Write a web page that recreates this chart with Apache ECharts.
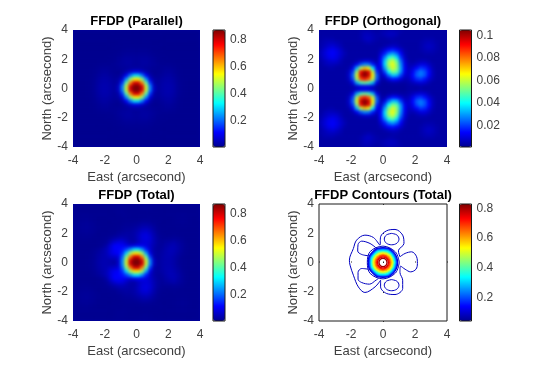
<!DOCTYPE html>
<html>
<head>
<meta charset="utf-8">
<script src="https://cdn.jsdelivr.net/npm/echarts@6/dist/echarts.min.js"></script>
<style>
  html, body { margin: 0; padding: 0; background: #fff; }
  #chart { position: absolute; left: 0; top: 0; width: 560px; height: 367px; }
  .panel { position: absolute; overflow: hidden; background: #0000a0; }
  .panel div { width: 100%; height: 100%; filter: blur(1px); }
</style>
</head>
<body>
<div class="panel" style="left:73px;top:30px;width:127px;height:117px"><div id="p1"></div></div>
<div class="panel" style="left:319px;top:30px;width:128px;height:117px"><div id="p2"></div></div>
<div class="panel" style="left:73px;top:204px;width:127px;height:117px"><div id="p3"></div></div>
<div id="chart"></div>
<script>
// grid values are in thousandths. cells are 0.25 arcsecond wide
const cellCenters = [-3.875, -3.625, -3.375, -3.125, -2.875, -2.625, -2.375, -2.125, -1.875, -1.625, -1.375, -1.125, -0.875, -0.625, -0.375, -0.125,
  0.125, 0.375, 0.625, 0.875, 1.125, 1.375, 1.625, 1.875, 2.125, 2.375, 2.625, 2.875, 3.125, 3.375, 3.625, 3.875];

// upper half only, the pictures are mirrored about North = 0. right half of the row for parallel
const parallelRows = [
  [2, 2, 2, 2, 2, 2, 2, 2, 2, 2, 2, 2, 2, 2, 2, 2],
  [2, 2, 2, 2, 2, 2, 2, 2, 2, 2, 2, 2, 2, 2, 2, 2],
  [2, 2, 2, 2, 2, 2, 2, 2, 2, 2, 2, 2, 2, 2, 2, 2],
  [3, 3, 3, 3, 2, 2, 2, 2, 2, 2, 2, 2, 2, 2, 2, 2],
  [4, 4, 3, 3, 3, 2, 2, 2, 2, 2, 2, 2, 2, 2, 2, 2],
  [6, 7, 6, 5, 3, 3, 2, 2, 2, 2, 2, 2, 2, 2, 2, 2],
  [10, 11, 10, 8, 5, 3, 3, 2, 2, 2, 2, 2, 2, 2, 2, 2],
  [14, 16, 16, 12, 8, 4, 3, 3, 2, 2, 2, 2, 2, 2, 2, 2],
  [16, 20, 20, 16, 11, 6, 4, 3, 3, 3, 2, 2, 2, 2, 2, 2],
  [14, 18, 18, 16, 12, 8, 6, 6, 5, 4, 3, 2, 2, 2, 2, 2],
  [20, 18, 14, 12, 9, 7, 8, 11, 11, 8, 4, 3, 2, 2, 2, 2],
  [80, 55, 30, 12, 6, 7, 10, 15, 15, 10, 5, 3, 2, 2, 2, 2],
  [300, 210, 100, 30, 8, 9, 14, 20, 20, 14, 7, 3, 2, 2, 2, 2],
  [550, 440, 230, 70, 20, 14, 20, 25, 25, 18, 9, 4, 3, 2, 2, 2],
  [790, 640, 400, 150, 30, 16, 24, 30, 30, 22, 11, 5, 3, 2, 2, 2],
  [870, 790, 500, 220, 50, 18, 26, 32, 32, 24, 12, 5, 3, 2, 2, 2]
];

const orthogonalRows = [
  [3, 3, 3, 3, 3, 3, 3, 3, 3, 3, 4, 5, 5, 4, 3, 4, 5, 6, 6, 5, 4, 3, 3, 3, 3, 3, 3, 3, 3, 3, 3, 3],
  [3, 3, 3, 3, 3, 3, 3, 3, 3, 3, 4, 6, 6, 5, 4, 4, 5, 6, 6, 5, 3, 3, 3, 3, 3, 3, 3, 3, 3, 3, 3, 3],
  [3, 4, 4, 4, 3, 3, 3, 3, 3, 3, 4, 6, 7, 5, 4, 3, 3, 4, 4, 3, 3, 3, 3, 3, 3, 3, 4, 4, 4, 3, 3, 3],
  [4, 5, 6, 6, 5, 4, 3, 3, 3, 3, 3, 4, 5, 4, 3, 3, 3, 3, 4, 4, 3, 3, 3, 3, 3, 4, 5, 6, 5, 4, 3, 3],
  [4, 6, 8, 9, 7, 5, 3, 3, 3, 3, 3, 3, 3, 3, 3, 3, 4, 6, 7, 6, 4, 3, 3, 3, 3, 4, 6, 7, 6, 4, 3, 3],
  [5, 8, 11, 12, 10, 7, 4, 3, 3, 3, 3, 3, 3, 3, 3, 5, 9, 14, 16, 13, 8, 4, 3, 3, 3, 4, 5, 6, 5, 4, 3, 3],
  [6, 9, 12, 13, 11, 8, 5, 3, 3, 3, 3, 3, 3, 3, 3, 8, 16, 26, 30, 24, 13, 5, 3, 3, 3, 3, 4, 4, 4, 3, 3, 3],
  [5, 8, 11, 12, 10, 7, 4, 3, 3, 3, 3, 3, 3, 3, 3, 12, 26, 42, 47, 36, 18, 7, 3, 3, 3, 3, 3, 3, 3, 3, 3, 3],
  [4, 6, 8, 9, 8, 5, 3, 3, 3, 4, 6, 8, 8, 6, 4, 14, 34, 54, 60, 48, 24, 9, 4, 3, 4, 5, 5, 4, 3, 3, 3, 3],
  [3, 5, 6, 6, 5, 4, 3, 3, 5, 12, 22, 28, 26, 16, 7, 13, 36, 58, 64, 54, 28, 11, 5, 5, 7, 10, 10, 7, 4, 3, 3, 3],
  [3, 3, 4, 4, 3, 3, 3, 4, 11, 32, 58, 72, 64, 38, 12, 9, 30, 52, 62, 54, 30, 12, 6, 9, 14, 19, 17, 11, 5, 3, 3, 3],
  [3, 3, 3, 3, 3, 3, 3, 6, 19, 54, 92, 103, 94, 60, 18, 6, 20, 40, 52, 48, 28, 11, 7, 12, 21, 26, 22, 14, 6, 3, 3, 3],
  [3, 3, 3, 3, 3, 3, 3, 7, 24, 62, 97, 105, 97, 66, 24, 5, 10, 24, 34, 32, 19, 8, 7, 14, 23, 26, 22, 13, 6, 3, 3, 3],
  [3, 3, 3, 3, 3, 3, 3, 6, 20, 56, 84, 90, 82, 60, 22, 4, 4, 10, 15, 14, 9, 5, 6, 11, 17, 19, 15, 9, 5, 3, 3, 3],
  [3, 3, 3, 3, 3, 3, 3, 4, 10, 30, 46, 50, 46, 32, 10, 3, 2, 3, 4, 4, 3, 3, 4, 6, 8, 9, 8, 5, 3, 3, 3, 3],
  [3, 3, 3, 3, 3, 3, 3, 3, 4, 7, 10, 11, 10, 7, 3, 2, 2, 2, 2, 2, 2, 2, 3, 3, 3, 4, 3, 3, 3, 3, 3, 3]
];

const totalRows = [
  [5, 5, 5, 5, 5, 5, 5, 5, 5, 5, 6, 7, 7, 6, 5, 6, 7, 8, 8, 7, 6, 5, 5, 5, 5, 5, 5, 5, 5, 5, 5, 5],
  [5, 5, 5, 5, 5, 5, 5, 5, 5, 5, 6, 8, 8, 7, 6, 6, 7, 8, 8, 7, 5, 5, 5, 5, 5, 5, 5, 5, 5, 5, 5, 5],
  [5, 6, 6, 6, 5, 5, 5, 5, 5, 5, 6, 8, 9, 7, 6, 5, 5, 6, 6, 5, 5, 5, 5, 5, 5, 5, 6, 6, 6, 5, 5, 5],
  [6, 7, 8, 8, 7, 6, 5, 5, 5, 5, 5, 6, 8, 7, 6, 6, 6, 6, 7, 7, 5, 5, 5, 5, 5, 6, 7, 8, 7, 6, 5, 5],
  [6, 8, 10, 11, 9, 7, 5, 5, 5, 5, 5, 6, 6, 7, 7, 7, 8, 10, 10, 9, 7, 5, 5, 5, 5, 6, 8, 9, 8, 6, 5, 5],
  [7, 10, 13, 14, 12, 9, 6, 5, 5, 5, 6, 6, 8, 9, 10, 11, 15, 21, 22, 18, 11, 7, 5, 5, 5, 6, 7, 8, 7, 6, 5, 5],
  [8, 11, 14, 15, 13, 10, 7, 5, 5, 5, 6, 6, 11, 13, 14, 18, 26, 37, 40, 32, 18, 8, 6, 5, 5, 5, 6, 6, 6, 5, 5, 5],
  [7, 10, 13, 14, 12, 9, 6, 5, 5, 6, 6, 11, 15, 19, 19, 26, 40, 58, 63, 48, 26, 11, 6, 6, 5, 5, 5, 5, 5, 5, 5, 5],
  [6, 8, 10, 11, 10, 7, 5, 6, 6, 8, 12, 19, 24, 26, 24, 30, 50, 74, 80, 64, 35, 15, 8, 6, 7, 8, 7, 6, 5, 5, 5, 5],
  [5, 7, 8, 8, 7, 6, 6, 8, 10, 18, 30, 40, 42, 34, 25, 27, 50, 76, 82, 70, 40, 19, 11, 11, 12, 14, 13, 9, 6, 5, 5, 5],
  [5, 5, 6, 6, 5, 5, 7, 8, 14, 40, 65, 81, 76, 52, 30, 29, 50, 70, 76, 66, 39, 19, 14, 20, 25, 30, 21, 14, 7, 5, 5, 5],
  [5, 5, 5, 5, 5, 5, 7, 12, 29, 69, 106, 109, 106, 90, 73, 86, 100, 95, 82, 60, 34, 18, 17, 27, 36, 41, 27, 17, 8, 5, 5, 5],
  [5, 5, 5, 5, 6, 10, 17, 27, 44, 76, 106, 113, 127, 166, 234, 305, 310, 234, 134, 62, 27, 17, 21, 34, 43, 40, 29, 16, 8, 5, 5, 5],
  [5, 5, 5, 6, 7, 12, 21, 31, 45, 76, 98, 110, 152, 290, 462, 554, 554, 450, 245, 84, 29, 19, 26, 36, 42, 37, 24, 13, 8, 5, 5, 5],
  [5, 5, 5, 6, 8, 14, 25, 34, 40, 54, 62, 80, 196, 432, 650, 793, 792, 643, 404, 154, 33, 19, 28, 36, 38, 31, 19, 10, 6, 5, 5, 5],
  [5, 5, 5, 6, 8, 15, 27, 35, 36, 33, 28, 61, 230, 507, 793, 872, 872, 792, 502, 222, 52, 20, 29, 35, 35, 28, 15, 8, 6, 5, 5, 5]
];

// contour lines of the total, [East, North] in arcsecond
const lowContours = [
  [[1.06, 0.39], [1.38, 0.62], [1.79, 0.73], [2.1, 0.39], [2.15, -0.07], [2.06, -0.46], [1.73, -0.64], [1.38, -0.46], [1.1, -0.25], [1.06, -0.68], [1.23, -1.21], [1.23, -1.78], [0.75, -2.19], [0.23, -2.12], [-0.15, -1.67], [-0.15, -1.21], [-0.5, -1.67], [-1.13, -2.05], [-1.54, -1.67], [-1.85, -0.87], [-2.06, -0.18], [-2.1, 0.16], [-1.85, 0.96], [-1.65, 1.53], [-1.13, 1.87], [-0.6, 1.71], [-0.19, 1.19], [-0.15, 1.76], [0.23, 2.17], [0.75, 2.26], [1.23, 1.87], [1.31, 1.3], [0.96, 0.8], [1.06, 0.39]],
  [[-0.44, 1.0], [-0.81, 1.3], [-1.33, 1.46], [-1.56, 1.23], [-1.58, 0.78], [-1.33, 0.55], [-0.9, 0.46]],
  [[-0.9, -0.46], [-1.33, -0.41], [-1.56, -0.68], [-1.56, -1.14], [-1.33, -1.37], [-0.85, -1.48], [-0.44, -1.21], [-0.29, -1.1]],
  [[0.54, 1.99], [0.87, 1.88], [1.0, 1.6], [0.87, 1.32], [0.54, 1.21], [0.21, 1.32], [0.08, 1.6], [0.21, 1.88], [0.54, 1.99]],
  [[0.54, -1.17], [0.87, -1.28], [1.0, -1.55], [0.87, -1.82], [0.54, -1.93], [0.21, -1.82], [0.08, -1.55], [0.21, -1.28], [0.54, -1.17]],
  [[1.02, 0], [0.78, 0.72], [0, 1.12], [-0.8, 0.75], [-0.98, 0], [-0.8, -0.75], [0, -1.12], [0.78, -0.72], [1.02, 0]]
];
const ringLevels = [0.1, 0.15, 0.2, 0.25, 0.3, 0.35, 0.4, 0.45, 0.5, 0.55, 0.6, 0.65, 0.7, 0.75, 0.8];
const ringContours = [
  [[0.92, 0], [0.65, 0.72], [0, 1.01], [-0.65, 0.72], [-0.92, 0], [-0.65, -0.72], [0, -1.01], [0.65, -0.72], [0.92, 0]],
  [[0.87, 0], [0.62, 0.68], [0, 0.96], [-0.62, 0.68], [-0.87, 0], [-0.62, -0.68], [0, -0.96], [0.62, -0.68], [0.87, 0]],
  [[0.83, 0], [0.59, 0.65], [0, 0.91], [-0.59, 0.65], [-0.83, 0], [-0.59, -0.65], [0, -0.91], [0.59, -0.65], [0.83, 0]],
  [[0.79, 0], [0.56, 0.62], [0, 0.87], [-0.56, 0.62], [-0.79, 0], [-0.56, -0.62], [0, -0.87], [0.56, -0.62], [0.79, 0]],
  [[0.75, 0], [0.53, 0.59], [0, 0.83], [-0.53, 0.59], [-0.75, 0], [-0.53, -0.59], [0, -0.83], [0.53, -0.59], [0.75, 0]],
  [[0.71, 0], [0.5, 0.55], [0, 0.78], [-0.5, 0.55], [-0.71, 0], [-0.5, -0.55], [0, -0.78], [0.5, -0.55], [0.71, 0]],
  [[0.67, 0], [0.48, 0.52], [0, 0.74], [-0.48, 0.52], [-0.67, 0], [-0.48, -0.52], [0, -0.74], [0.48, -0.52], [0.67, 0]],
  [[0.63, 0], [0.45, 0.49], [0, 0.69], [-0.45, 0.49], [-0.63, 0], [-0.45, -0.49], [0, -0.69], [0.45, -0.49], [0.63, 0]],
  [[0.6, 0], [0.43, 0.47], [0, 0.66], [-0.43, 0.47], [-0.6, 0], [-0.43, -0.47], [0, -0.66], [0.43, -0.47], [0.6, 0]],
  [[0.55, 0], [0.39, 0.43], [0, 0.61], [-0.39, 0.43], [-0.55, 0], [-0.39, -0.43], [0, -0.61], [0.39, -0.43], [0.55, 0]],
  [[0.5, 0], [0.36, 0.39], [0, 0.55], [-0.36, 0.39], [-0.5, 0], [-0.36, -0.39], [0, -0.55], [0.36, -0.39], [0.5, 0]],
  [[0.45, 0], [0.32, 0.35], [0, 0.5], [-0.32, 0.35], [-0.45, 0], [-0.32, -0.35], [0, -0.5], [0.32, -0.35], [0.45, 0]],
  [[0.4, 0], [0.28, 0.31], [0, 0.44], [-0.28, 0.31], [-0.4, 0], [-0.28, -0.31], [0, -0.44], [0.28, -0.31], [0.4, 0]],
  [[0.34, 0], [0.24, 0.27], [0, 0.37], [-0.24, 0.27], [-0.34, 0], [-0.24, -0.27], [0, -0.37], [0.24, -0.27], [0.34, 0]],
  [[0.25, 0], [0.18, 0.2], [0, 0.28], [-0.18, 0.2], [-0.25, 0], [-0.18, -0.2], [0, -0.28], [0.18, -0.2], [0.25, 0]]
];

const titles = ["FFDP (Parallel)", "FFDP (Orthogonal)", "FFDP (Total)", "FFDP Contours (Total)"];
const barRanges = [[0.002, 0.869], [0.0006, 0.1047], [0.004, 0.869], [0.042, 0.829]];
const barTicks = [[0.2, 0.4, 0.6, 0.8], [0.02, 0.04, 0.06, 0.08, 0.1], [0.2, 0.4, 0.6, 0.8], [0.2, 0.4, 0.6, 0.8]];

const jetColors = ["#00008f", "#0000ff", "#0080ff", "#00ffff", "#80ff80", "#ffff00", "#ff8000", "#ff0000", "#800000"];
const plotBoxes = [
  { left: 73, top: 30, width: 127, height: 117, barLeft: 213 },
  { left: 319, top: 30, width: 128, height: 117, barLeft: 459.5 },
  { left: 73, top: 204, width: 127, height: 117, barLeft: 213 },
  { left: 319, top: 204, width: 128, height: 117, barLeft: 459.5 },
];
const FONT = "Liberation Sans";
const TEXT_COLOR = "#404040";

function drawHeatmap(id, rows, range) {
  let chart = echarts.init(document.getElementById(id));
  let allRows = rows.concat(rows.slice().reverse());
  let seriesData = [];
  allRows.forEach((row, j) => {
    row.forEach((value, i) => {
      seriesData.push([i, cellCenters.length - 1 - j, value / 1000]);
    });
  });
  chart.setOption({
    animation: false,
    grid: { left: 0, right: 0, top: 0, bottom: 0 },
    xAxis: { type: "category", data: cellCenters, show: false },
    yAxis: { type: "category", data: cellCenters, show: false },
    visualMap: {
      show: false,
      min: range[0],
      max: range[1],
      inRange: { color: jetColors },
    },
    series: [{ type: "heatmap", data: seriesData, progressive: 0 }],
  });
}

drawHeatmap("p1", parallelRows.map((row) => row.slice().reverse().concat(row)), barRanges[0]);
drawHeatmap("p2", orthogonalRows, barRanges[1]);
drawHeatmap("p3", totalRows, barRanges[2]);

let grids = [];
let xAxes = [];
let yAxes = [];
let titleList = [];
let visualMaps = [];
plotBoxes.forEach((box, n) => {
  let bordered = n === 3;
  grids.push({
    left: box.left,
    top: box.top,
    width: box.width,
    height: box.height,
    show: bordered,
    borderColor: "#1a1a1a",
    borderWidth: 1,
    backgroundColor: "transparent",
  });
  xAxes.push({
    gridIndex: grids.length - 1,
    type: "value",
    min: -4,
    max: 4,
    interval: 2,
    splitLine: { show: false },
    axisLine: { show: false },
    axisTick: { show: bordered, inside: true, length: 1, lineStyle: { color: "#262626" } },
    axisLabel: { color: TEXT_COLOR, fontFamily: FONT, fontSize: 12, margin: 8 },
    name: "East (arcsecond)",
    nameLocation: "middle",
    nameGap: 24,
    nameTextStyle: { color: TEXT_COLOR, fontFamily: FONT, fontSize: 13 },
  });
  yAxes.push({
    gridIndex: grids.length - 1,
    type: "value",
    min: -4,
    max: 4,
    interval: 2,
    splitLine: { show: false },
    axisLine: { show: false },
    axisTick: { show: bordered, inside: true, length: 1, lineStyle: { color: "#262626" } },
    axisLabel: { color: TEXT_COLOR, fontFamily: FONT, fontSize: 12, margin: 5 },
    name: "North (arcsecond)",
    nameLocation: "middle",
    nameGap: 14,
    nameTextStyle: { color: TEXT_COLOR, fontFamily: FONT, fontSize: 13 },
  });
  titleList.push({
    text: titles[n],
    left: box.left + box.width / 2,
    top: box.top - 15,
    padding: 0,
    textAlign: "center",
    textStyle: { color: "#000", fontFamily: FONT, fontSize: 13, fontWeight: "bold" },
  });

  // colorbar: gradient from the visualMap, frame and ticks from an empty grid on top of it
  visualMaps.push({
    type: "continuous",
    seriesIndex: [],
    min: barRanges[n][0],
    max: barRanges[n][1],
    left: box.barLeft,
    top: box.top,
    itemWidth: 12,
    itemHeight: box.height,
    padding: 0,
    calculable: false,
    hoverLink: false,
    text: null,
    showLabel: false,
    inRange: { color: jetColors },
    z: 1,
  });
  grids.push({
    left: box.barLeft,
    top: box.top,
    width: 12,
    height: box.height,
    show: true,
    z: 10,
    borderColor: "#1a1a1a",
    borderWidth: 1,
    backgroundColor: "transparent",
  });
  xAxes.push({ gridIndex: grids.length - 1, type: "value", show: false, min: 0, max: 1 });
  yAxes.push({
    gridIndex: grids.length - 1,
    type: "value",
    position: "right",
    min: barRanges[n][0],
    max: barRanges[n][1],
    splitLine: { show: false },
    axisLine: { show: false },
    axisTick: { show: false },
    axisLabel: {
      customValues: barTicks[n],
      formatter: (v) => String(v),
      color: TEXT_COLOR,
      fontFamily: FONT,
      fontSize: 12,
      margin: 5,
    },
  });
});

// the contour box is grid index 6 (plot, bar, plot, bar, plot, bar, plot)
let contourSeries = [];
lowContours.forEach((line) => {
  contourSeries.push({
    type: "line",
    xAxisIndex: 6,
    yAxisIndex: 6,
    data: line,
    smooth: 0.35,
    showSymbol: false,
    silent: true,
    lineStyle: { color: "#0000c0", width: 1 },
  });
});
ringContours.forEach((line, i) => {
  let t = (ringLevels[i] - barRanges[3][0]) / (barRanges[3][1] - barRanges[3][0]);
  contourSeries.push({
    type: "line",
    xAxisIndex: 6,
    yAxisIndex: 6,
    data: line,
    smooth: 0.5,
    showSymbol: false,
    silent: true,
    lineStyle: { color: echarts.color.lerp(t, jetColors), width: 1.4 },
  });
});

let myChart = echarts.init(document.getElementById("chart"));
myChart.setOption({
  animation: false,
  title: titleList,
  grid: grids,
  xAxis: xAxes,
  yAxis: yAxes,
  visualMap: visualMaps,
  series: contourSeries,
});
</script>
</body>
</html>
